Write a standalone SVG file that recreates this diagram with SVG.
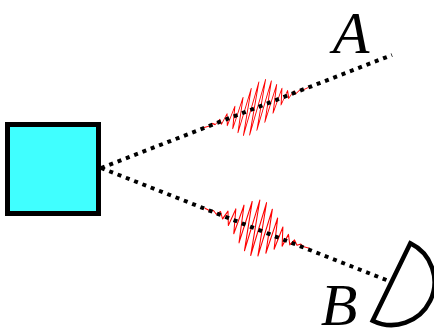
<svg xmlns="http://www.w3.org/2000/svg" width="434" height="329" viewBox="0 0 434 329">
  <style>
    .beam { fill: none; stroke: #000; stroke-width: 4; stroke-dasharray: 4 4.9; }
    .packet { fill: none; stroke: #ff0000; stroke-width: 1.1; stroke-linejoin: round; vector-effect: non-scaling-stroke; }
    .label { font-family: "Liberation Serif", "Times New Roman", serif; font-style: italic; font-size: 60px; fill: #000; text-anchor: middle; }
  </style>
  <defs>
    <!-- Gaussian wave packet in local coordinates: x along the beam, y along the oscillation axis -->
    <path id="wave" d="M-56 0 L-50.4 0.56 L-46.8 -0.95 L-43.2 1.6 L-39.6 -2.5 L-36 3.8 L-32.4 -5.5 L-28.8 7.8 L-25.2 -10.5 L-21.6 13.6 L-18 -17 L-14.4 20.3 L-10.8 -23.4 L-7.2 25.8 L-3.6 -27.5 L0 28 L3.6 -27.5 L7.2 25.8 L10.8 -23.4 L14.4 20.3 L18 -17 L21.6 13.6 L25.2 -10.5 L28.8 7.8 L32.4 -5.5 L36 3.8 L39.6 -2.5 L43.2 1.6 L46.8 -0.95 L50.4 0.56 L56 0"/>
  </defs>

  <!-- wave packets travelling along each beam -->
  <g id="packet-a">
    <use href="#wave" class="packet" transform="matrix(0.9336 -0.3584 -0.2250 0.9744 256 107.6)"/>
  </g>
  <g id="packet-b">
    <use href="#wave" class="packet" transform="matrix(0.9336 0.3584 -0.2250 0.9744 257 228.2)"/>
  </g>

  <!-- beams from the source -->
  <g id="connectors">
    <line class="beam" x1="101" y1="168" x2="392" y2="55"/>
    <line class="beam" x1="101" y1="168" x2="391.5" y2="282"/>
  </g>

  <!-- source -->
  <g id="source">
    <rect x="7.5" y="124.5" width="91" height="89" fill="#40ffff" stroke="#000" stroke-width="5"/>
  </g>

  <!-- detector at B -->
  <g id="detector">
    <path d="M0 -43 A43 43 0 0 1 0 43 Z" transform="translate(391.5 282) rotate(26)" fill="#fff" stroke="#000" stroke-width="4.5" stroke-linejoin="miter"/>
  </g>

  <g id="label-a">
    <text class="label" x="351" y="53">A</text>
  </g>
  <g id="label-b">
    <text class="label" x="339" y="325">B</text>
  </g>
</svg>
